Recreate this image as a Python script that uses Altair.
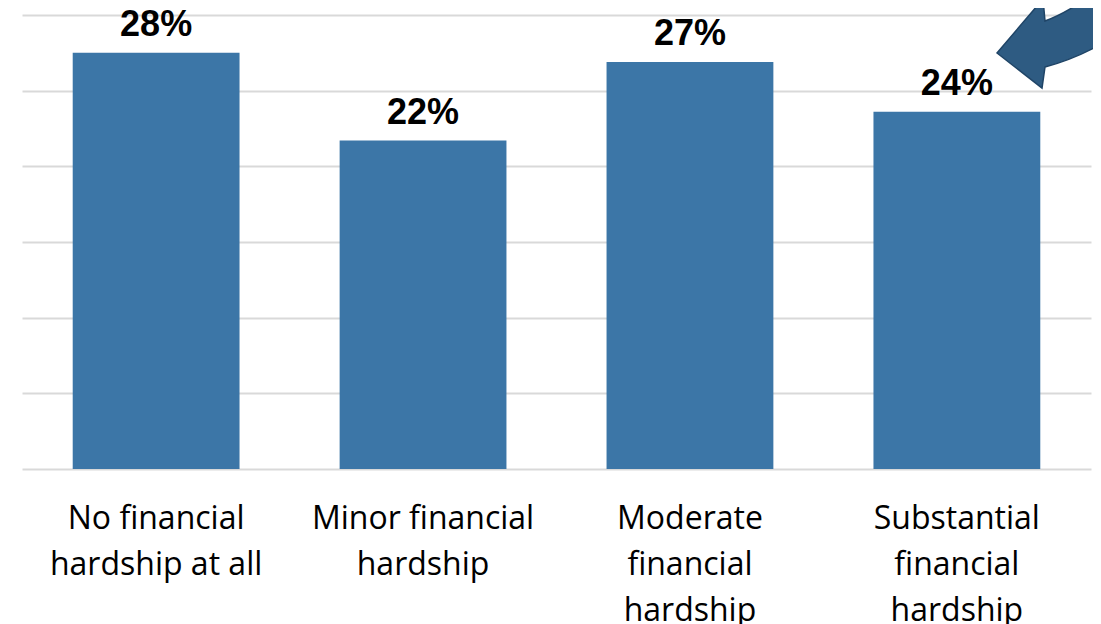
import altair as alt
import pandas as pd

# ---- data ----
label_lines = [
    "No financial|hardship at all",
    "Minor financial|hardship",
    "Moderate|financial|hardship",
    "Substantial|financial|hardship",
]
values = [27.5, 21.7, 26.9, 23.6]
value_labels = ["28%", "22%", "27%", "24%"]
grid_values = [0, 5, 10, 15, 20, 25, 30]

df = pd.DataFrame({"category": label_lines, "value": values, "label": value_labels})

ARROW_PATH = (
    "M -0.96 0.14 L -0.04 -0.94 L 0 -0.5 Q 0.55 -0.7 1.3 -1.3 "
    "L 1.7 -0.4 Q 0.85 0.2 0 0.42 L -0.06 0.84 Z"
)

x_enc = alt.X(
    "category:N",
    sort=label_lines,
    title=None,
    scale=alt.Scale(paddingInner=0.375, paddingOuter=0.19),
    axis=alt.Axis(
        labelExpr="split(datum.label, '|')",
        labelAngle=0,
        labelFont="Open Sans",
        labelFontSize=32,
        labelColor="#000000",
        labelLineHeight=46,
        labelBaseline="alphabetic",
        labelPadding=59,
        labelLimit=0,
        ticks=False,
        tickSize=0,
        domain=False,
        grid=False,
    ),
)
y_enc = alt.Y(
    "value:Q",
    scale=alt.Scale(domain=[0, 30], nice=False),
    axis=alt.Axis(
        values=grid_values,
        labels=False,
        ticks=False,
        tickSize=0,
        domain=False,
        grid=True,
        gridColor="#D9D9D9",
        gridWidth=2,
        title=None,
    ),
)

base = alt.Chart(df)

bars = base.mark_bar(color="#3C76A7").encode(x=x_enc, y=y_enc)

text = base.mark_text(
    font="Liberation Sans",
    fontWeight="bold",
    fontSize=36,
    baseline="alphabetic",
    dy=-17,
    color="#000000",
).encode(x=alt.X("category:N", sort=label_lines), y="value:Q", text="label:N")

arrow = alt.Chart(pd.DataFrame({"a": [0]})).mark_point(
    shape=ARROW_PATH,
    size=10000,
    filled=True,
    fill="#2E5B82",
    stroke="#1F4466",
    strokeWidth=1.5,
    opacity=1,
).encode(x=alt.value(1023), y=alt.value(31))

chart = (
    alt.layer(bars, text, arrow)
    .properties(
        width=1069,
        height=454,
        padding={"left": 14, "top": 7, "right": 2, "bottom": 160},
        autosize=alt.AutoSizeParams(type="none"),
    )
    .configure_view(stroke=None)
)

chart.save("out.html", embed_options={"renderer": "svg", "actions": False})
